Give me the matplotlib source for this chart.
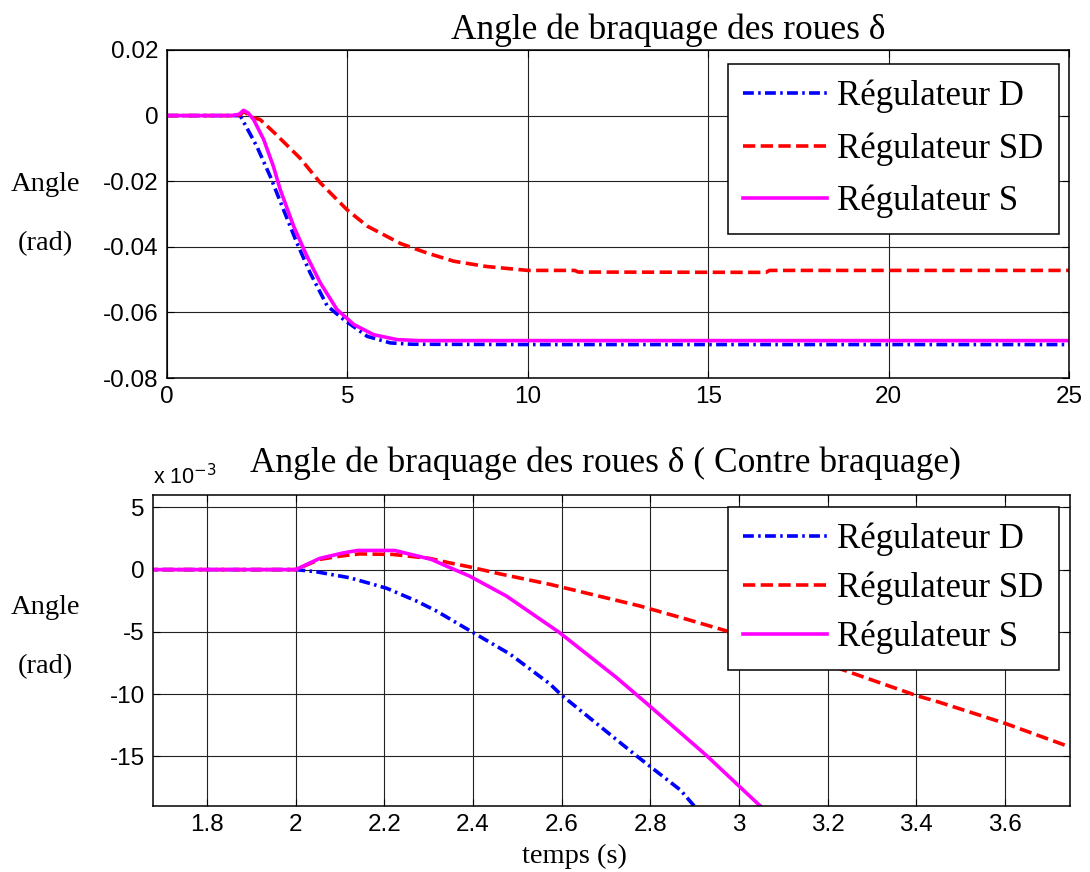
import matplotlib
matplotlib.use("Agg")
import matplotlib.pyplot as plt
from matplotlib.ticker import FuncFormatter

# top panel: steering angle (rad) over 0..25 s
top_t_D = [0, 1.9, 2.03, 2.49, 2.86, 3.23, 3.60, 3.97, 4.44, 4.90, 5.55, 6.19, 6.78, 10, 15, 20, 25]
top_D = [0, 0, 0, -0.0094, -0.0185, -0.0287, -0.0388, -0.048, -0.058, -0.0622, -0.0673, -0.0693,
         -0.0697, -0.0698, -0.0698, -0.0698, -0.0698]
top_t_SD = [0, 2.0, 2.13, 2.40, 2.58, 3.0, 3.69, 4.25, 4.62, 4.99, 5.55, 6.47, 7.21, 7.95, 8.85,
            10.0, 11.3, 11.4, 16.6, 16.7, 25]
top_SD = [0, 0, 0.0012, -0.0007, -0.0012, -0.0055, -0.013, -0.0205, -0.0246, -0.0287, -0.0337,
          -0.039, -0.0419, -0.0444, -0.046, -0.0472, -0.0472, -0.0477, -0.0478, -0.0472, -0.0472]
top_t_S = [0, 1.8, 2.0, 2.12, 2.25, 2.40, 2.68, 2.95, 3.14, 3.51, 3.88, 4.25, 4.71, 5.18, 5.73,
           6.38, 7.0, 25]
top_S = [0, 0, 0.0004, 0.0016, 0.0008, -0.0012, -0.0073, -0.0155, -0.0226, -0.0337, -0.0429,
         -0.051, -0.0591, -0.0637, -0.0668, -0.0683, -0.0686, -0.0686]
top_xticks = [0, 5, 10, 15, 20, 25]
top_yticks = [-0.08, -0.06, -0.04, -0.02, 0, 0.02]

# bottom panel: zoom on counter-steering, values in 1e-3 rad
bot_t_D = [1.5, 2.0, 2.047, 2.122, 2.174, 2.205, 2.272, 2.317, 2.400, 2.483, 2.573, 2.60, 2.767,
           2.868, 2.899]
bot_D = [0, 0, -0.18, -0.66, -1.18, -1.5, -2.52, -3.32, -5.06, -6.78, -9.18, -10.1, -14.92,
         -17.72, -19.0]
bot_t_SD = [1.5, 2.0, 2.054, 2.099, 2.144, 2.219, 2.302, 2.347, 2.392, 2.460, 2.573, 2.776, 2.881,
            2.971, 3.219, 3.400, 3.452, 3.602, 3.747]
bot_SD = [0, 0, 0.82, 1.08, 1.26, 1.22, 0.9, 0.54, 0.22, -0.34, -1.18, -2.92, -3.98, -4.92,
          -7.86, -10.12, -10.66, -12.38, -14.26]
bot_t_S = [1.5, 2.0, 2.054, 2.107, 2.140, 2.223, 2.306, 2.340, 2.392, 2.475, 2.573, 2.595, 2.723,
           2.79, 2.926, 3.048]
bot_S = [0, 0, 0.90, 1.34, 1.54, 1.54, 0.82, 0.28, -0.52, -2.12, -4.52, -5.06, -8.66, -10.7,
         -14.92, -19.0]
bot_xticks = [1.8, 2.0, 2.2, 2.4, 2.6, 2.8, 3.0, 3.2, 3.4, 3.6]
bot_yticks = [-15, -10, -5, 0, 5]

labels = ["Régulateur D", "Régulateur SD", "Régulateur S"]

SERIF = ["Liberation Serif", "DejaVu Serif"]
plt.rcParams.update({"font.family": ["Liberation Sans", "DejaVu Sans"],
                     "axes.unicode_minus": False})

LW = 2.6
sty = [dict(color="#0000FF", dashes=(3.0, 1.2, 0.7, 1.2)),
       dict(color="#FF0000", dashes=(3.4, 1.5)),
       dict(color="#FF00FF", ls="-")]

fig = plt.figure(figsize=(10.9, 8.72), dpi=100)
ax1 = fig.add_axes([0.1532, 0.5665, 0.8275, 0.3762])
ax2 = fig.add_axes([0.1404, 0.0757, 0.8413, 0.3567])

fmt = FuncFormatter(lambda v, p: f"{round(v, 6):g}")

def style(ax):
    ax.grid(True, color="#222222", lw=0.8)
    ax.set_axisbelow(True)
    for s in ax.spines.values():
        s.set_linewidth(1.1)
    ax.tick_params(direction="in", top=True, right=True, length=5, labelsize=17.5, pad=6)
    ax.xaxis.set_major_formatter(fmt)
    ax.yaxis.set_major_formatter(fmt)

def legend(ax, anchor, spacing):
    lg = ax.legend(loc="upper right", bbox_to_anchor=anchor, borderaxespad=0,
                   prop={"family": SERIF, "size": 25}, fancybox=False, framealpha=1,
                   edgecolor="black", handlelength=2.4, handletextpad=0.3, labelspacing=spacing,
                   borderpad=0.45)
    lg.get_frame().set_linewidth(1.1)

for (t, v), st, lab in zip([(top_t_D, top_D), (top_t_SD, top_SD), (top_t_S, top_S)], sty, labels):
    ax1.plot(t, v, lw=LW, label=lab, **st)
ax1.set_xlim(0, 25)
ax1.set_ylim(-0.08, 0.02)
ax1.set_xticks(top_xticks)
ax1.set_yticks(top_yticks)
style(ax1)
legend(ax1, (0.989, 0.957), 0.55)

for (t, v), st, lab in zip([(bot_t_D, bot_D), (bot_t_SD, bot_SD), (bot_t_S, bot_S)], sty, labels):
    ax2.plot(t, v, lw=LW, label=lab, **st)
ax2.set_xlim(1.678, 3.747)
ax2.set_ylim(-19, 6)
ax2.set_xticks(bot_xticks)
ax2.set_yticks(bot_yticks)
style(ax2)
legend(ax2, (0.988, 0.961), 0.45)
ax2.text(0.0, 1.035, r"x 10$^{-3}$", transform=ax2.transAxes, fontsize=15.5, ha="left", va="baseline")

# titles and labels (serif, as in the source figure)
fig.text(0.613, 0.9553, "Angle de braquage des roues δ", family=SERIF, fontsize=25.5,
         ha="center", va="baseline")
fig.text(0.555, 0.4587, "Angle de braquage des roues δ ( Contre braquage)", family=SERIF,
         fontsize=25.5, ha="center", va="baseline")
for y in (0.788, 0.3028):
    fig.text(0.042, y, "Angle", family=SERIF, fontsize=20.5, ha="center", va="center")
for y in (0.721, 0.235):
    fig.text(0.042, y, "(rad)", family=SERIF, fontsize=20.5, ha="center", va="center")
fig.text(0.527, 0.0103, "temps (s)", family=SERIF, fontsize=20.5, ha="center", va="baseline")

fig.savefig("out.png", facecolor="white")
